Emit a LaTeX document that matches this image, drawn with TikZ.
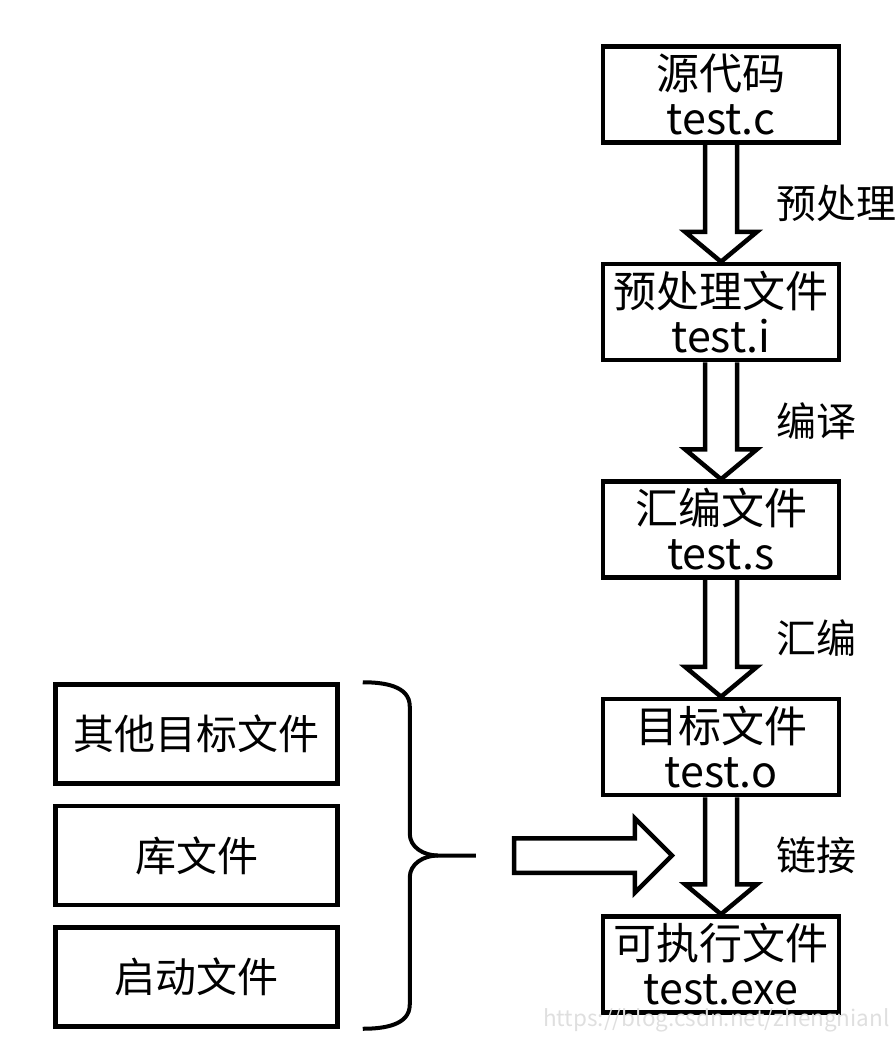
\documentclass[tikz,border=0pt]{standalone}
\usepackage{fontspec}
\setmainfont{Noto Sans CJK SC}
\usepackage{xcolor}
\usepackage{tikz}
\usetikzlibrary{shapes.arrows,positioning}

\newcommand{\passarrow}[3]{%
  \draw[hollow] ([xshift=-16pt]#1.south) -- ([xshift=-16pt,yshift=30pt]#2.north)
    -- ([xshift=-36pt,yshift=30pt]#2.north) -- (#2.north)
    -- ([xshift=36pt,yshift=30pt]#2.north) -- ([xshift=16pt,yshift=30pt]#2.north)
    -- ([xshift=16pt]#1.south);
  \path (#1.south) -- (#2.north) node[midway,right=55pt,lbl] {#3};}

\begin{document}
\begin{tikzpicture}[
  node distance=117pt,
  blk/.style={draw,line width=4.5pt,align=center,minimum width=236pt,minimum height=96pt,inner sep=0pt,font=\fontsize{43}{45}\selectfont},
  side/.style={blk,minimum width=282pt,minimum height=99pt,font=\fontsize{41}{46}\selectfont},
  hollow/.style={line width=4.5pt,line join=miter},
  lbl/.style={inner sep=0pt,font=\fontsize{40}{46}\selectfont},
  brc/.style={line width=4pt},
  bigarr/.style={draw,line width=4.5pt,single arrow,inner xsep=0pt,inner ysep=15pt,minimum height=158pt,single arrow head extend=20pt,font=\fontsize{1}{1}\selectfont},
  wm/.style={inner sep=0pt,text=gray!25,font=\fontsize{22.5}{24}\selectfont}]
  \useasboundingbox (0,0) rectangle (896pt,-1042pt);
  % main flow
  \node[blk] (src) at (721pt,-94.5pt) {源代码\\test.c};
  \node[blk,below=of src] (pre) {预处理文件\\test.i};
  \node[blk,below=of pre] (asm) {汇编文件\\test.s};
  \node[blk,below=of asm] (obj) {目标文件\\test.o};
  \node[blk,below=of obj] (exe) {可执行文件\\test.exe};
  \passarrow{src}{pre}{预处理}
  \passarrow{pre}{asm}{编译}
  \passarrow{asm}{obj}{汇编}
  \passarrow{obj}{exe}{链接}
  % inputs of the link step
  \node[side] (oth) at (196.5pt,-734pt) {其他目标文件};
  \node[side,below=18pt of oth] (lib) {库文件};
  \node[side,below=18pt of lib] (sta) {启动文件};
  \coordinate (tip) at ([xshift=136pt]lib.east);
  \draw[brc] ([xshift=23pt]oth.north east) to[out=0,in=90] ++(47pt,-24pt)
    -- ([xshift=70pt,yshift=22pt]lib.east) to[out=-90,in=180] ++(28pt,-22pt) -- (tip);
  \draw[brc] ([xshift=23pt]sta.south east) to[out=0,in=-90] ++(47pt,24pt)
    -- ([xshift=70pt,yshift=-22pt]lib.east) to[out=90,in=180] ++(28pt,22pt);
  \node[bigarr,right=36pt of tip] (merge) {};
  \node[wm,anchor=base west] (wm) at (543pt,-1026pt) {https://blog.csdn.net/zhengnianl};
\end{tikzpicture}
\end{document}
